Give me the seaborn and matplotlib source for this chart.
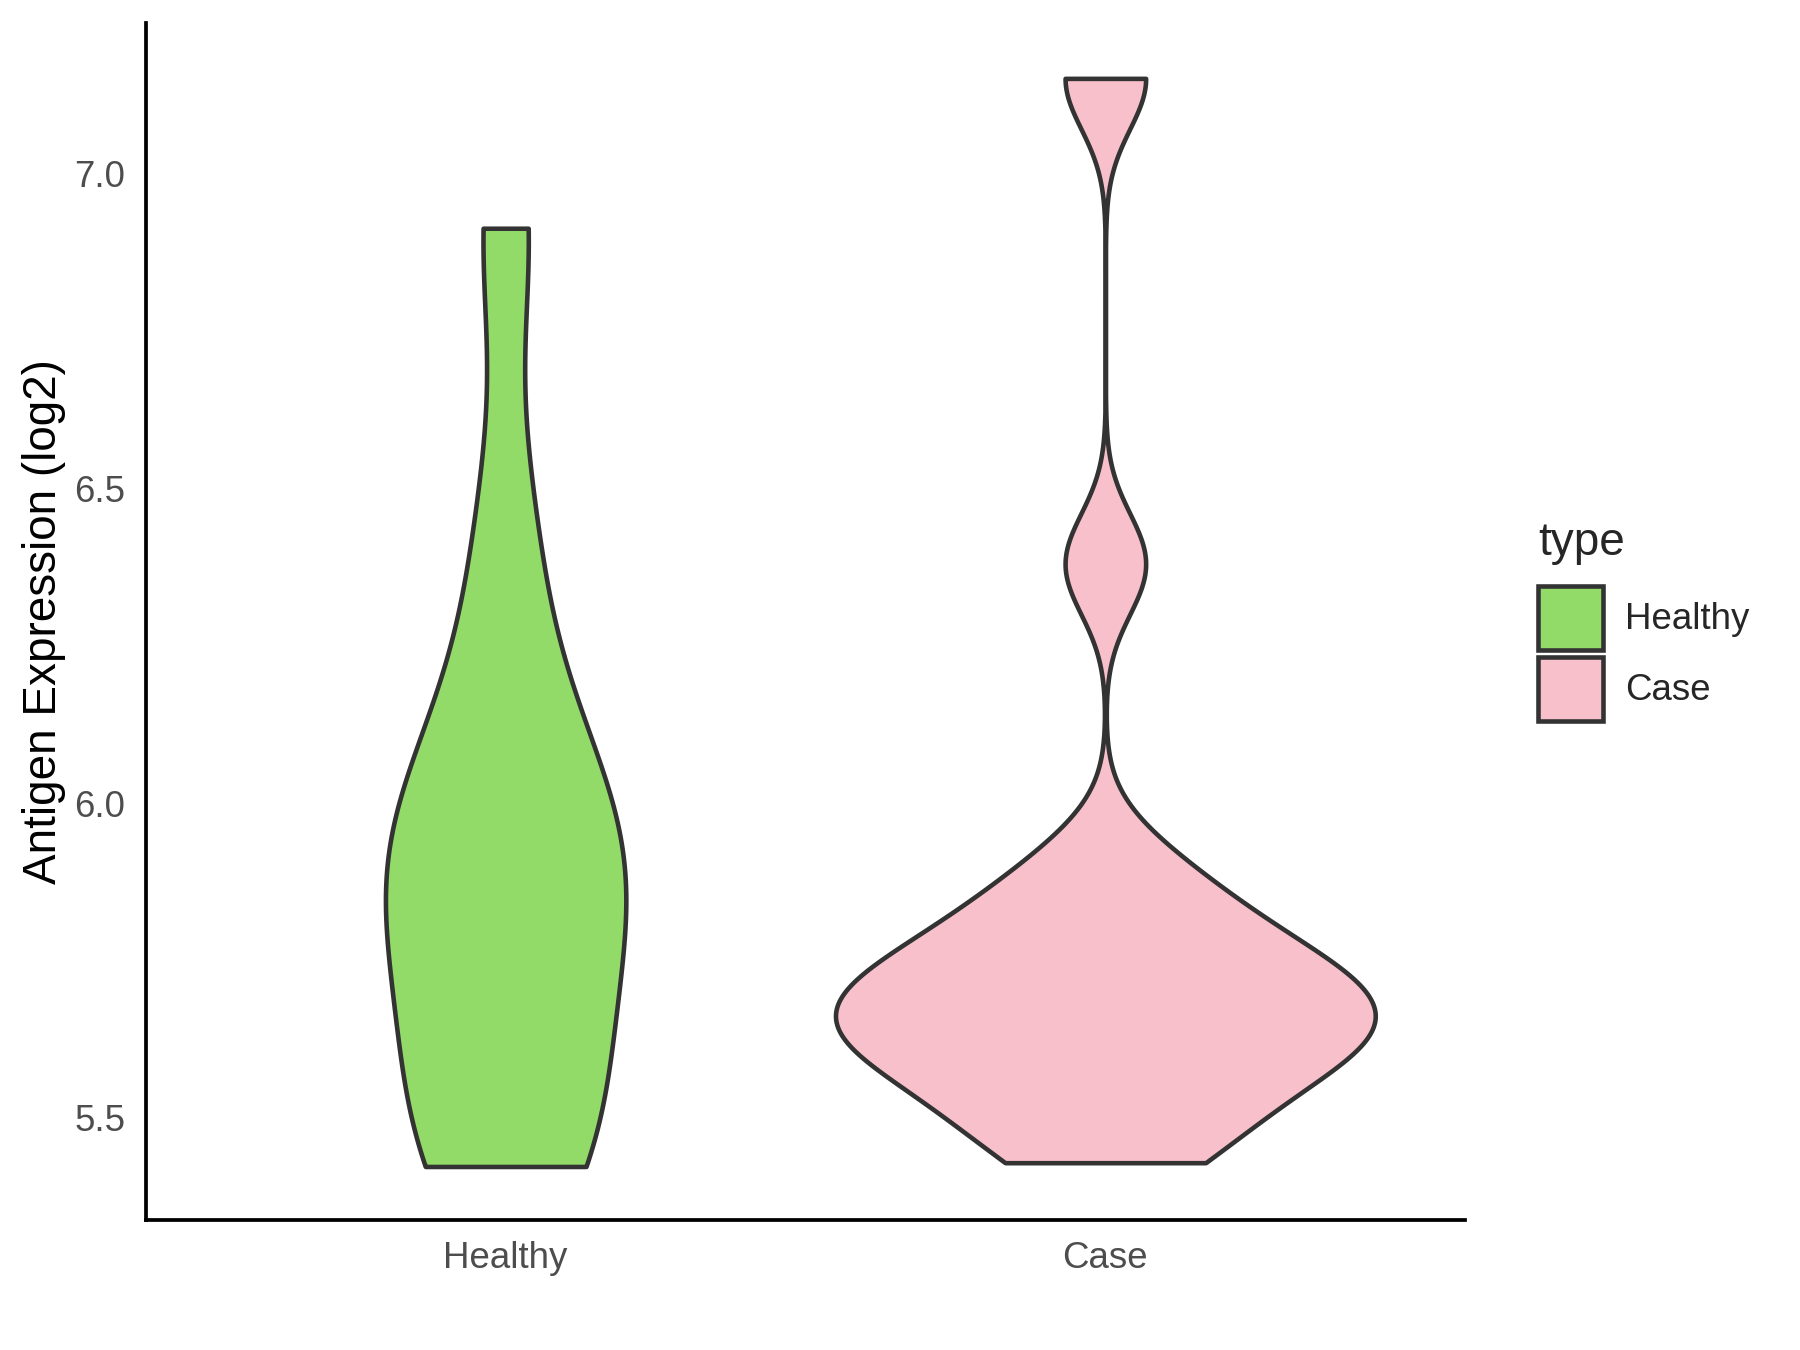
import numpy as np
import pandas as pd
import matplotlib
matplotlib.use("Agg")
import matplotlib.pyplot as plt
import seaborn as sns
from matplotlib.patches import Patch

# 그룹 이름과 색
groups = ["Healthy", "Case"]
colors = ["#93DB69", "#F8C0CB"]

# 값 (log2 발현량) - 그림에서 읽은 추정치
healthy_vals = [5.423, 5.44, 5.52, 5.64, 5.77, 5.84, 5.89, 5.95, 6.03, 6.16,
                6.43, 6.913]
case_vals = [5.429, 5.48, 5.54, 5.585, 5.61, 5.635, 5.66, 5.685, 5.71, 5.74,
             5.775, 5.83, 5.90, 6.38, 7.151]

df = pd.DataFrame({
    "type": ["Healthy"] * len(healthy_vals) + ["Case"] * len(case_vals),
    "value": healthy_vals + case_vals,
})


# R 의 bw.nrd0 (ggplot 기본 bandwidth)
def bw_nrd0(kde):
    x = kde.dataset[0]
    sd = np.std(x, ddof=1)
    iqr = np.subtract(*np.percentile(x, [75, 25]))
    h = 0.9 * min(sd, iqr / 1.34) * len(x) ** (-0.2)
    return h / sd


sns.set_style("white")
plt.rcParams["font.family"] = ["Liberation Sans", "DejaVu Sans"]

fig = plt.figure(figsize=(6, 4.5), dpi=300)
ax = fig.add_axes([0.081, 0.0963, 0.733, 0.8867])

sns.violinplot(data=df, x="type", y="value", hue="type", order=groups,
               hue_order=groups, palette=colors, cut=0, inner=None,
               bw_method=bw_nrd0, gridsize=512, density_norm="area",
               common_norm=True, width=0.9, linecolor="#333333",
               linewidth=1.1, saturation=1, legend=False, ax=ax)

ax.set_xlim(-0.6, 1.6)
ax.set_ylim(5.338, 7.239)
ax.set_yticks([5.5, 6.0, 6.5, 7.0])
ax.set_yticklabels(["5.5", "6.0", "6.5", "7.0"])
ax.set_xlabel("")
ax.set_ylabel("Antigen Expression (log2)", fontsize=11, color="black",
              labelpad=2)
ax.tick_params(axis="both", length=2.75, width=0.9, color="#333333",
               labelsize=8.8, labelcolor="#4D4D4D", pad=2.2)
for side in ["top", "right"]:
    ax.spines[side].set_visible(False)
for side in ["left", "bottom"]:
    ax.spines[side].set_color("black")
    ax.spines[side].set_linewidth(0.9)

handles = [Patch(facecolor=c, edgecolor="#333333", linewidth=1.1, label=g)
           for g, c in zip(groups, colors)]
leg = fig.legend(handles=handles, title="type", loc="center left",
                 bbox_to_anchor=(0.836, 0.54), frameon=False, fontsize=8.8,
                 title_fontsize=11, handlelength=1.78, handleheight=2.3,
                 labelspacing=0.19, handletextpad=0.6, alignment="left")
leg._legend_box.sep = 5

fig.savefig("out.png", dpi=300)
